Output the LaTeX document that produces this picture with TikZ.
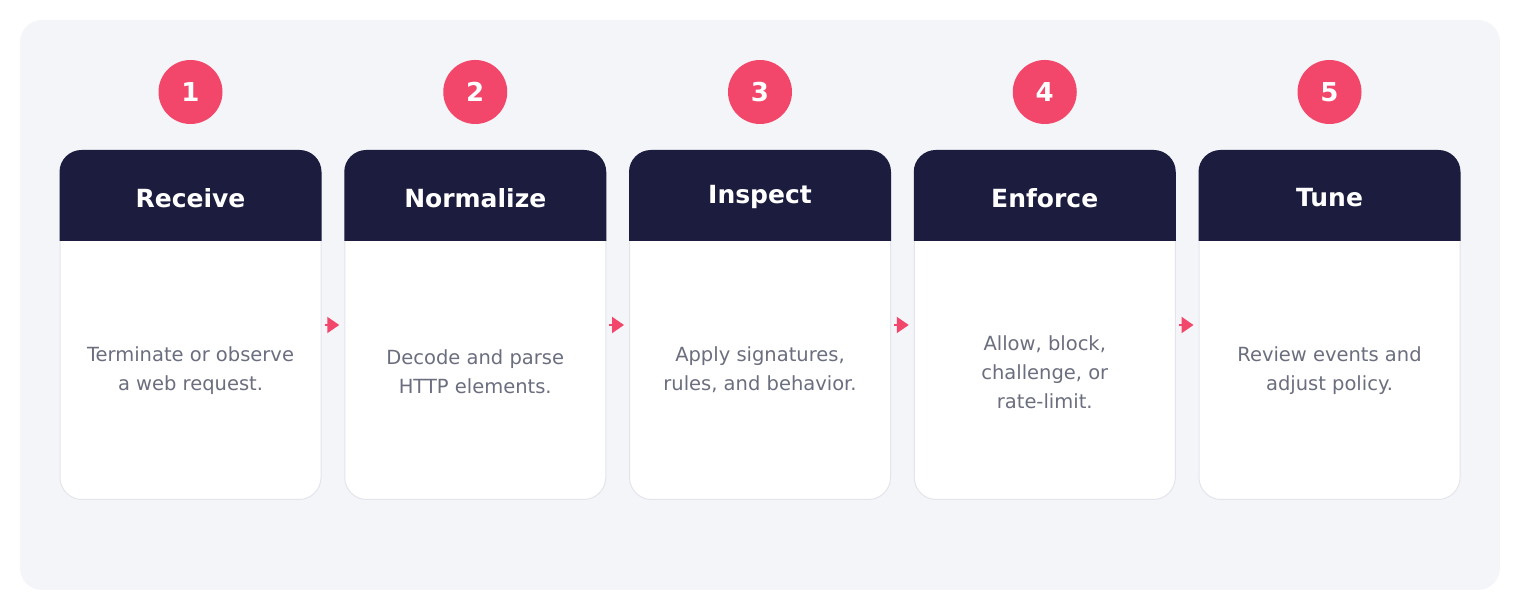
\documentclass[tikz,border=0pt]{standalone}
\usepackage{fontspec}
\setmainfont{DejaVu Sans}
\usetikzlibrary{arrows.meta, positioning}
\definecolor{panelbg}{HTML}{F4F5F9}
\definecolor{navy}{HTML}{1C1C3F}
\definecolor{badgered}{HTML}{F2476A}
\definecolor{bodygray}{HTML}{6B6E7E}
\definecolor{cardline}{HTML}{E4E5EC}

\begin{document}
\begin{tikzpicture}[x=1pt, y=1pt,
    card/.style={draw=cardline, line width=1pt, fill=white, rounded corners=22pt,
        minimum width=261pt, minimum height=349pt, inner sep=0pt},
    header/.style={text=white, font=\fontsize{25}{29}\selectfont\bfseries},
    badge/.style={circle, fill=badgered, minimum size=64pt, inner sep=0pt,
        text=white, font=\fontsize{26}{30}\selectfont\bfseries},
    desc/.style={align=center, text=bodygray,
        font=\fontsize{19.5}{29}\selectfont},
    flow/.style={badgered, line width=2pt, shorten <=3pt, shorten >=5pt,
        -{Triangle[length=12pt, width=16pt]}}]

    % Background panel
    \useasboundingbox (0,0) rectangle (1520,610);
    \fill[panelbg, rounded corners=22pt] (20,20) rectangle (1500,590);

    % Cards
    \node[card] (c1) at (190.5,285) {};
    \node[card, right=22.75pt of c1] (c2) {};
    \node[card, right=22.75pt of c2] (c3) {};
    \node[card, right=22.75pt of c3] (c4) {};
    \node[card, right=22.75pt of c4] (c5) {};

    % Dark header bands, top corners rounded
    \foreach \c in {c1,c2,c3,c4,c5}
        \fill[navy] ([yshift=-91pt]\c.north west) -- ([yshift=-22pt]\c.north west)
            arc[start angle=180, end angle=90, radius=22pt]
            -- ([xshift=-22pt]\c.north east)
            arc[start angle=90, end angle=0, radius=22pt]
            -- ([yshift=-91pt]\c.north east) -- cycle;

    % Header titles
    \node[header] (h1) at ([yshift=-48pt]c1.north) {Receive};
    \node[header] (h2) at ([yshift=-48pt]c2.north) {Normalize};
    \node[header] (h3) at ([yshift=-47pt]c3.north) {Inspect};
    \node[header] (h4) at ([yshift=-48pt]c4.north) {Enforce};
    \node[header] (h5) at ([yshift=-48pt]c5.north) {Tune};

    % Step numbers
    \node[badge] (b1) at ([yshift=58pt]c1.north) {1};
    \node[badge] (b2) at ([yshift=58pt]c2.north) {2};
    \node[badge] (b3) at ([yshift=58pt]c3.north) {3};
    \node[badge] (b4) at ([yshift=58pt]c4.north) {4};
    \node[badge] (b5) at ([yshift=58pt]c5.north) {5};

    % Descriptions
    \node[desc] (d1) at ([yshift=-46pt]c1.center) {Terminate or observe\\a web request.};
    \node[desc] (d2) at ([yshift=-47pt]c2.center) {Decode and parse\\HTTP elements.};
    \node[desc] (d3) at ([yshift=-45pt]c3.center) {Apply signatures,\\rules, and behavior.};
    \node[desc] (d4) at ([yshift=-47pt]c4.center) {Allow, block,\\challenge, or\\rate-limit.};
    \node[desc] (d5) at ([yshift=-46pt]c5.center) {Review events and\\adjust policy.};

    % Flow arrows
    \draw[flow] (c1.east) -- (c2.west);
    \draw[flow] (c2.east) -- (c3.west);
    \draw[flow] (c3.east) -- (c4.west);
    \draw[flow] (c4.east) -- (c5.west);
\end{tikzpicture}
\end{document}
